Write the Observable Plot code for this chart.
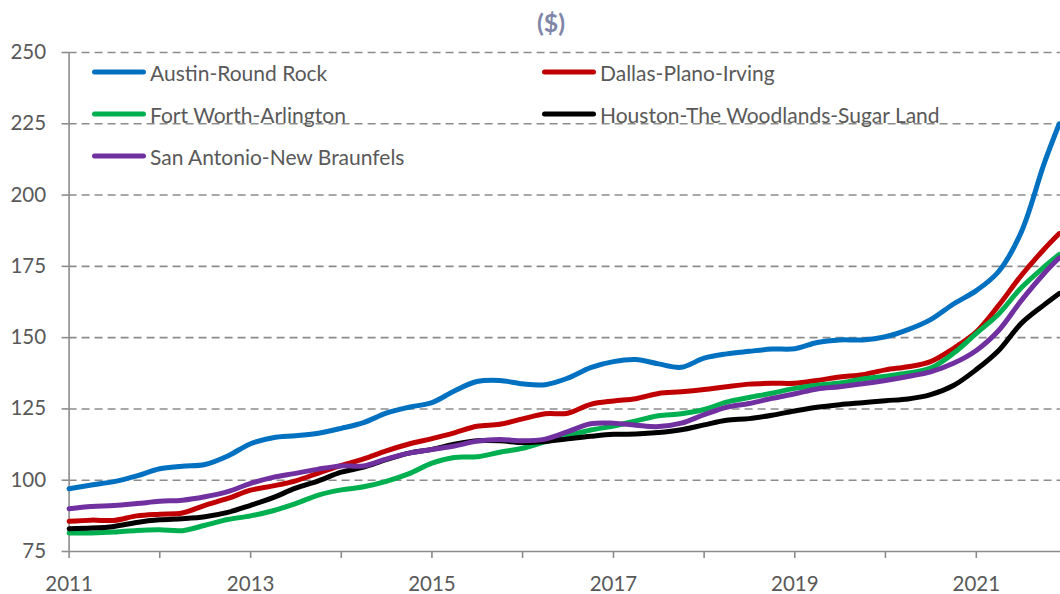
<!DOCTYPE html>
<html><head><meta charset="utf-8">
<script src="https://cdn.jsdelivr.net/npm/d3@7"></script>
<script src="https://cdn.jsdelivr.net/npm/@observablehq/plot@0.6"></script>
<style>
body{margin:0;background:#fff;font-family:Lato,"Open Sans",sans-serif;}
#wrap{position:relative;width:1060px;height:594px;overflow:hidden;}
#title{height:40px;line-height:44px;text-align:center;padding-left:42px;font-weight:bold;font-size:25px;color:#8086A8;}
#legend{position:absolute;left:0;top:0;}
.item{position:absolute;display:flex;align-items:center;font-size:21px;color:#595959;white-space:nowrap;transform:translateY(-50%);}
.swatch{width:54px;height:5.5px;border-radius:3px;margin-right:4px;}
</style></head><body>
<div id="wrap"><div id="title">($)</div><div id="chart"></div><div id="legend"></div></div>
<script>
const dates = ["2011-01-01","2011-04-01","2011-07-01","2011-10-01",
"2012-01-01","2012-04-01","2012-07-01","2012-10-01",
"2013-01-01","2013-04-01","2013-07-01","2013-10-01",
"2014-01-01","2014-04-01","2014-07-01","2014-10-01",
"2015-01-01","2015-04-01","2015-07-01","2015-10-01",
"2016-01-01","2016-04-01","2016-07-01","2016-10-01",
"2017-01-01","2017-04-01","2017-07-01","2017-10-01",
"2018-01-01","2018-04-01","2018-07-01","2018-10-01",
"2019-01-01","2019-04-01","2019-07-01","2019-10-01",
"2020-01-01","2020-04-01","2020-07-01","2020-10-01",
"2021-01-01","2021-04-01","2021-07-01","2021-10-01","2021-12-01"];

const seriesNames = ["Austin-Round Rock","Dallas-Plano-Irving","Fort Worth-Arlington","Houston-The Woodlands-Sugar Land","San Antonio-New Braunfels"];
const seriesColors = ["#0070C0","#C00000","#00B050","#000000","#7030A0"];

const austin = [97,98.3,99.5,101.5, 104,104.9,105.5,108.5, 112.8,114.9,115.6,116.5, 118.2,120.2,123.5,125.6,
 127.2,131.3,134.6,135, 133.8,133.5,135.8,139.5, 141.6,142.3,140.8,139.6, 142.8,144.3,145.2,146,
 146.1,148.3,149.2,149.2, 150.3,152.8,156.3,161.8, 166.5,173.2,187,211,225];
const dallas = [85.6,86,85.9,87.5, 88.1,88.5,91.2,93.6, 96.5,98,99.8,102.5, 105.2,107.5,110.3,112.7,
 114.6,116.6,118.9,119.6, 121.5,123.3,123.5,126.6, 127.8,128.6,130.4,131, 131.8,132.8,133.7,134,
 134,135,136.2,137, 138.7,139.8,141.6,146.2, 152,161.3,171.8,181,186.5];
const fortWorth = [81.5,81.5,81.8,82.4, 82.6,82.3,84.2,86.2, 87.5,89.3,91.8,94.8, 96.6,97.7,99.6,102.3,
 106,108,108.2,109.8, 111.2,113.5,115.5,117.6, 119,120.8,122.6,123.3, 124.8,127.4,129,130.5,
 132.2,133.3,134.1,135.5, 136.5,137.6,139.3,144.5, 151.5,158.3,167.5,174.8,179.2];
const houston = [83,83.2,83.8,85.2, 86.1,86.5,87.2,88.7, 91.2,93.9,97.2,99.8, 102.8,104.6,107.2,109.5,
 110.8,112.6,113.8,113.8, 113.2,113.6,114.5,115.4, 116.1,116.2,116.7,117.7, 119.4,121,121.6,122.8,
 124.3,125.6,126.5,127.2, 127.9,128.5,130,133.2, 138.8,145.5,155,161.5,165.5];
const sanAntonio = [90,90.8,91.1,91.8, 92.6,93,94.2,96, 98.9,101,102.4,103.9, 105,105,107.4,109.5,
 110.8,112,113.7,114.3, 113.8,114.4,117,119.8, 120,119.3,118.8,120, 123,125.6,126.9,128.7,
 130.3,132,132.8,133.8, 135,136.4,138,141, 145.5,152.5,163,172.5,178];

const yTicks = [75,100,125,150,175,200,225,250];
const xTickYears = [2011,2012,2013,2014,2015,2016,2017,2018,2019,2020,2021];

const allSeries = [austin, dallas, fortWorth, houston, sanAntonio];
const table = [];
seriesNames.forEach((name, i) => {
  allSeries[i].forEach((v, j) => table.push({series: name, date: new Date(dates[j]), value: v}));
});

const xStart = new Date("2011-01-01");
const xEnd = new Date("2021-12-06");
const xTicks = xTickYears.map(y => new Date(Date.UTC(y, 0, 1)));

const chart = Plot.plot({
  width: 1060,
  height: 554,
  marginLeft: 68.6,
  marginRight: 0,
  marginTop: 12,
  marginBottom: 43,
  style: {fontFamily: "Lato, 'Open Sans', sans-serif", fontSize: "20px", background: "#fff", overflow: "visible"},
  x: {type: "utc", domain: [xStart, xEnd]},
  y: {domain: [75, 250]},
  color: {domain: seriesNames, range: seriesColors},
  marks: [
    Plot.gridY(yTicks.filter(d => d > 75), {stroke: "#8c8c8c", strokeOpacity: 1, strokeWidth: 1.6, strokeDasharray: "8,5"}),
    Plot.ruleX([xStart], {stroke: "#8c8c8c", strokeWidth: 1.6}),
    Plot.ruleY([75], {stroke: "#8c8c8c", strokeWidth: 1.6}),
    Plot.axisY(yTicks, {tickSize: 7, tickPadding: 16, stroke: "#8c8c8c", strokeWidth: 1.6, fill: "#595959", fontSize: 20.5, label: null}),
    Plot.axisX(xTicks, {tickSize: 7, tickPadding: 18, stroke: "#8c8c8c", strokeWidth: 1.6, fill: "#595959", fontSize: 20.5, label: null,
      tickFormat: d => (d.getUTCFullYear() % 2 === 1 ? String(d.getUTCFullYear()) : "")}),
    Plot.lineY(table, {x: "date", y: "value", z: "series", stroke: "series", strokeWidth: 5, curve: "catmull-rom", strokeLinecap: "round", strokeLinejoin: "round"})
  ]
});
document.getElementById("chart").appendChild(chart);

// legend (HTML overlay)
const legendLayout = [
  {left: 92, top: 72}, {left: 542, top: 72},
  {left: 92, top: 114}, {left: 542, top: 114},
  {left: 92, top: 156}
];
const legend = document.getElementById("legend");
seriesNames.forEach((name, i) => {
  const it = document.createElement("div");
  it.className = "item";
  it.style.left = legendLayout[i].left + "px";
  it.style.top = legendLayout[i].top + "px";
  const sw = document.createElement("div");
  sw.className = "swatch";
  sw.style.background = seriesColors[i];
  const tx = document.createElement("span");
  tx.textContent = name;
  it.appendChild(sw); it.appendChild(tx);
  legend.appendChild(it);
});
</script>
</body></html>
